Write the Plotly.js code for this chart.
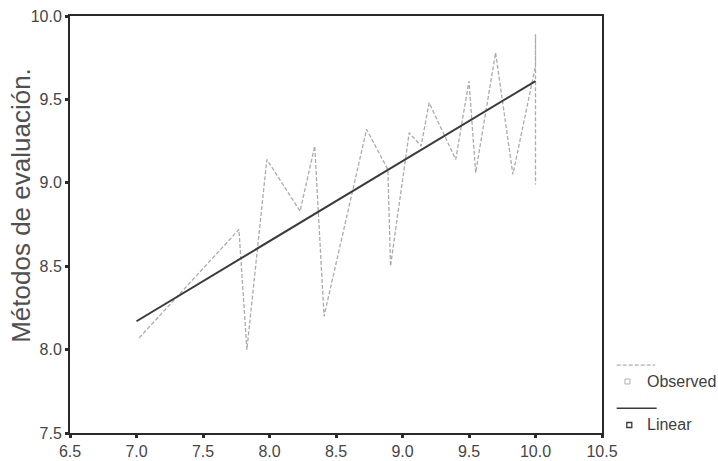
<!DOCTYPE html>
<html>
<head>
<meta charset="utf-8">
<script src="https://cdn.plot.ly/plotly-3.0.1.min.js"></script>
<style>html,body{margin:0;padding:0;background:#fff;}#chart{width:718px;height:461px;}</style>
</head>
<body>
<div id="chart"></div>
<script>
// Observed series (x = predictor, y = Métodos de evaluación.)
var observedX = [7.02, 7.77, 7.83, 7.98, 8.23, 8.34, 8.41, 8.73, 8.89, 8.91, 9.05, 9.14, 9.20, 9.40, 9.50, 9.55, 9.70, 9.83, 10.0, 10.0, 10.0];
var observedY = [8.07, 8.72, 8.00, 9.14, 8.83, 9.22, 8.20, 9.32, 9.08, 8.50, 9.30, 9.22, 9.48, 9.14, 9.61, 9.06, 9.78, 9.05, 9.70, 9.89, 8.99];
// Linear fit
var linearX = [7.0, 10.0];
var linearY = [8.17, 9.61];
// Axis ticks
var xTicks = [6.5, 7.0, 7.5, 8.0, 8.5, 9.0, 9.5, 10.0, 10.5];
var yTicks = [7.5, 8.0, 8.5, 9.0, 9.5, 10.0];
var yTitle = 'Métodos de evaluación.';
var legendNames = ['Observed', 'Linear'];

var fontFam = 'Liberation Sans, Arial, sans-serif';

var traces = [
  {x: observedX, y: observedY, mode: 'lines', name: legendNames[0],
   line: {color: '#ababab', width: 1.3, dash: '4px,2px'}, showlegend: false},
  {x: linearX, y: linearY, mode: 'lines', name: legendNames[1],
   line: {color: '#3a3a3a', width: 2}, showlegend: false}
];

var axisCommon = {
  showgrid: false, zeroline: false, showline: true, mirror: true,
  linecolor: '#2a2a2a', linewidth: 2,
  ticks: 'outside', ticklen: 3, tickwidth: 3, tickcolor: '#2a2a2a',
  tickfont: {family: fontFam, size: 16, color: '#454545'},
  tickformat: '.1f', tickmode: 'array'
};

var layout = {
  width: 718, height: 461,
  margin: {l: 70, r: 116, t: 16, b: 28},
  paper_bgcolor: '#ffffff', plot_bgcolor: '#ffffff',
  showlegend: false,
  xaxis: Object.assign({}, axisCommon, {range: [6.5, 10.5], tickvals: xTicks}),
  yaxis: Object.assign({}, axisCommon, {range: [7.5, 10.0], tickvals: yTicks}),
  annotations: [
    {text: yTitle, xref: 'paper', yref: 'paper', x: -0.092, y: 0.545,
     textangle: -90, showarrow: false, xanchor: 'center', yanchor: 'middle',
     font: {family: fontFam, size: 26, color: '#505050'}},
    {text: legendNames[0], xref: 'paper', yref: 'paper', x: 1.081, y: 0.123,
     xanchor: 'left', yanchor: 'middle', showarrow: false,
     font: {family: fontFam, size: 16, color: '#404040'}},
    {text: legendNames[1], xref: 'paper', yref: 'paper', x: 1.081, y: 0.0192,
     xanchor: 'left', yanchor: 'middle', showarrow: false,
     font: {family: fontFam, size: 16, color: '#404040'}}
  ],
  shapes: [
    {type: 'line', xref: 'paper', yref: 'paper', x0: 1.0276, x1: 1.1, y0: 0.163, y1: 0.163,
     line: {color: '#b0b0b0', width: 1.2, dash: '4px,2px'}},
    {type: 'rect', xref: 'paper', yref: 'paper', x0: 1.0432, x1: 1.0526, y0: 0.1175, y1: 0.1295,
     line: {color: '#b0b0b0', width: 1}},
    {type: 'line', xref: 'paper', yref: 'paper', x0: 1.0276, x1: 1.1028, y0: 0.0592, y1: 0.0592,
     line: {color: '#3a3a3a', width: 1.6}},
    {type: 'rect', xref: 'paper', yref: 'paper', x0: 1.0466, x1: 1.056, y0: 0.0132, y1: 0.0252,
     line: {color: '#3a3a3a', width: 1.3}}
  ]
};

Plotly.newPlot('chart', traces, layout, {displayModeBar: false, staticPlot: true});
</script>
</body>
</html>
